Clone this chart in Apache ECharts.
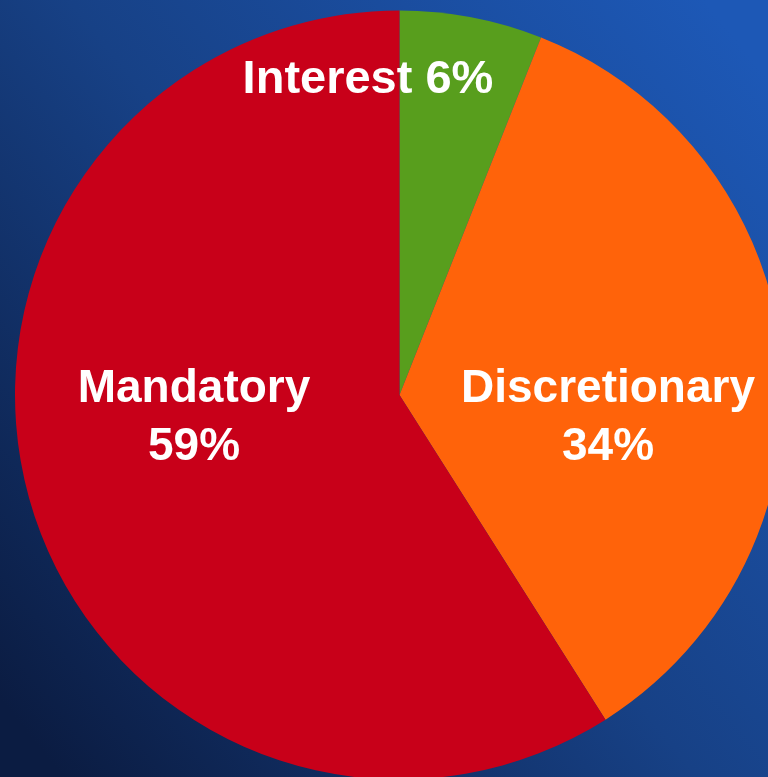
<!DOCTYPE html>
<html>
<head>
<meta charset="utf-8">
<style>
  html, body { margin: 0; padding: 0; background: #12336c; }
  #chart { width: 768px; height: 777px; }
</style>
<script src="https://cdn.jsdelivr.net/npm/echarts@6/dist/echarts.min.js"></script>
</head>
<body>
<div id="chart"></div>
<script>
// slices, clockwise from 12 o'clock
const categories = ['Interest', 'Discretionary', 'Mandatory'];
const shares = [6, 35, 59];
const shownPercent = ['6%', '34%', '59%'];
const sliceColors = ['#589e1d', '#ff630a', '#c80019'];

// where each label sits (px inside the 768x777 canvas)
const labelSpots = [
	{ x: 368, y: 80, size: 47, oneLine: true },
	{ x: 608, y: 418, size: 46 },
	{ x: 194, y: 418, size: 46 }
];

const chart = echarts.init(document.getElementById('chart'), null, { renderer: 'canvas' });

chart.setOption({
	backgroundColor: {
		type: 'linear',
		x: 0, y: 0.9, x2: 1, y2: 0.1,
		colorStops: [
			{ offset: 0, color: '#0b1c42' },
			{ offset: 0.5, color: '#174186' },
			{ offset: 1, color: '#1d58b6' }
		]
	},
	animation: false,
	series: [{
		type: 'pie',
		center: [399.5, 395],
		radius: 384.5,
		startAngle: 90,
		clockwise: true,
		avoidLabelOverlap: false,
		itemStyle: { borderWidth: 0 },
		label: {
			show: true,
			position: 'inside',
			color: '#ffffff',
			fontFamily: '"Liberation Sans", Arial, sans-serif',
			fontWeight: 'bold',
			fontSize: 46,
			lineHeight: 58,
			align: 'center',
			formatter: (p) => {
				const i = p.dataIndex;
				return labelSpots[i].oneLine
					? categories[i] + ' ' + shownPercent[i]
					: categories[i] + '\n' + shownPercent[i];
			}
		},
		labelLine: { show: false },
		labelLayout: (p) => ({
			x: labelSpots[p.dataIndex].x,
			y: labelSpots[p.dataIndex].y,
			align: 'center',
			verticalAlign: 'middle'
		}),
		data: categories.map((name, i) => ({
			name,
			value: shares[i],
			itemStyle: { color: sliceColors[i] },
			label: { fontSize: labelSpots[i].size }
		}))
	}]
});
</script>
</body>
</html>
